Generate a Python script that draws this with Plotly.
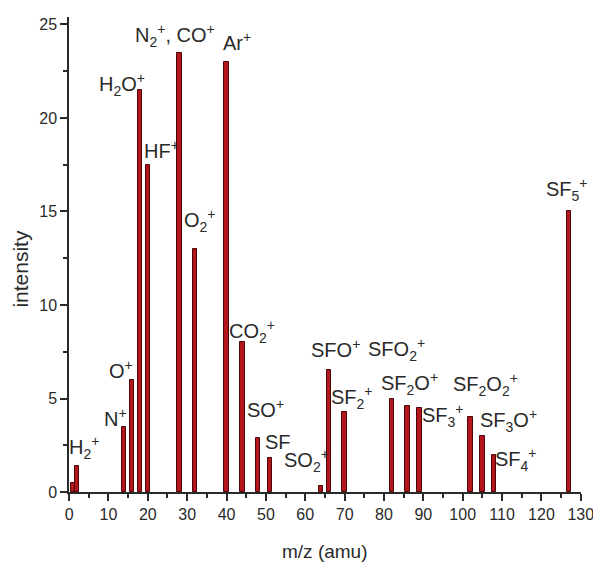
import plotly.graph_objects as go

# m/z positions and intensities
mz = [1, 2, 14, 16, 18, 20, 28, 32, 40, 44, 48, 51, 64, 66, 70, 82, 86, 89, 102, 105, 108, 127]
intensity = [0.5, 1.4, 3.5, 6.0, 21.5, 17.5, 23.5, 13.0, 23.0, 8.0, 2.9, 1.8, 0.3, 6.5, 4.3,
             5.0, 4.6, 4.5, 4.0, 3.0, 2.0, 15.0]

# peak labels and their positions (data coordinates)
label_text = [
    "H<sub>2</sub><sup>+</sup>", "N<sup>+</sup>", "O<sup>+</sup>", "H<sub>2</sub>O<sup>+</sup>",
    "HF<sup>+</sup>", "N<sub>2</sub><sup>+</sup>, CO<sup>+</sup>", "Ar<sup>+</sup>",
    "O<sub>2</sub><sup>+</sup>", "CO<sub>2</sub><sup>+</sup>", "SO<sup>+</sup>", "SF",
    "SO<sub>2</sub><sup>+</sup>", "SFO<sup>+</sup>", "SF<sub>2</sub><sup>+</sup>",
    "SFO<sub>2</sub><sup>+</sup>", "SF<sub>2</sub>O<sup>+</sup>", "SF<sub>3</sub><sup>+</sup>",
    "SF<sub>2</sub>O<sub>2</sub><sup>+</sup>", "SF<sub>3</sub>O<sup>+</sup>",
    "SF<sub>4</sub><sup>+</sup>",
]
label_x = [3.8, 11.9, 13.2, 13.5, 23.4, 26.9, 42.6, 33.2, 46.5, 50.0, 53.0,
           60.2, 67.6, 71.8, 83.3, 86.5, 95.0, 105.8, 111.7, 113.6]
label_y = [2.4, 4.0, 6.55, 21.8, 18.3, 24.4, 24.1, 14.5, 8.6, 4.45, 2.65,
           1.7, 7.7, 5.05, 7.6, 5.8, 4.1, 5.75, 3.8, 1.75]

# the SF5+ label sits at the right edge, past the end of the axis
edge_label = "SF<sub>5</sub><sup>+</sup>"
edge_label_y = 16.2

x_ticks = list(range(0, 131, 10))
y_ticks = [0, 5, 10, 15, 20, 25]

FONT = "Liberation Sans, Arial, sans-serif"
INK = "#2a2a2a"

fig = go.Figure()
fig.add_trace(go.Bar(
    x=mz, y=intensity, width=1.15,
    marker=dict(color="#b3161b", line=dict(color="#4a0508", width=1)),
    hoverinfo="x+y",
))

for t, xx, yy in zip(label_text, label_x, label_y):
    fig.add_annotation(x=xx, y=yy, text=t, showarrow=False,
                       xanchor="center", yanchor="middle",
                       font=dict(family=FONT, size=20, color=INK))

fig.add_annotation(xref="paper", yref="y", x=1.018, y=edge_label_y, text=edge_label,
                   showarrow=False, xanchor="right", yanchor="middle",
                   font=dict(family=FONT, size=20, color=INK))

# axis titles
fig.add_annotation(xref="paper", yref="paper", x=-0.094, y=0.47, text="intensity",
                   textangle=-90, showarrow=False, xanchor="center", yanchor="middle",
                   font=dict(family=FONT, size=21, color=INK))
fig.add_annotation(xref="paper", yref="paper", x=0.5, y=-0.125, text="m/z (amu)",
                   showarrow=False, xanchor="center", yanchor="middle",
                   font=dict(family=FONT, size=19, color=INK))

axis_common = dict(
    showline=True, linecolor=INK, linewidth=1.5, mirror=False,
    ticks="outside", ticklen=7, tickwidth=1.5, tickcolor=INK,
    showgrid=False, zeroline=False, automargin=False,
    ticklabeloverflow="allow",
    tickfont=dict(family=FONT, size=16, color=INK),
)

fig.update_xaxes(
    range=[-0.02, 130.05], tickvals=x_ticks,
    minor=dict(dtick=5, tick0=0, ticks="outside", ticklen=4, tickwidth=1.5, tickcolor=INK),
    **axis_common,
)
fig.update_yaxes(
    range=[0, 25.4], tickvals=y_ticks,
    minor=dict(dtick=2.5, tick0=0, ticks="outside", ticklen=4, tickwidth=1.5, tickcolor=INK),
    **axis_common,
)

fig.update_layout(
    width=593, height=562,
    margin=dict(l=69, r=12, t=17, b=70),
    plot_bgcolor="white", paper_bgcolor="white",
    showlegend=False, bargap=0,
)

# remove the page's default body margin and scrollbars so the figure fills the window
fig.write_html(
    "out.html",
    config={"displayModeBar": False},
    post_script=(
        "document.body.style.margin='0';"
        "document.body.style.overflow='hidden';"
        "document.documentElement.style.overflow='hidden';"
    ),
)
